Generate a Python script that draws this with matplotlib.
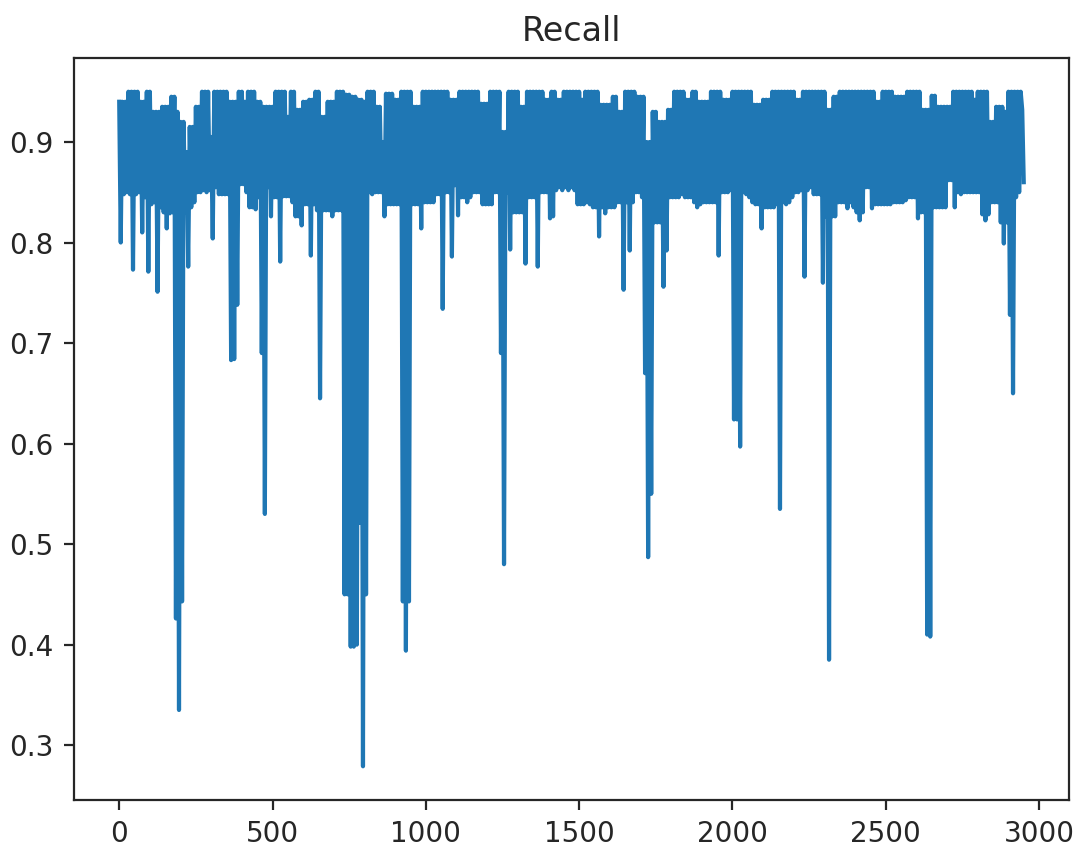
import numpy as np
import matplotlib
matplotlib.use("Agg")
import matplotlib.pyplot as plt

plt.rcParams["path.simplify"] = False

title = "Recall"
sample_every = 5  # one recall value read every 5 iterations

recall = [
    0.94, 0.80, 0.94, 0.848, 0.94, 0.85, 0.95, 0.848, 0.95, 0.773,
    0.95, 0.848, 0.95, 0.85, 0.94, 0.81, 0.94, 0.845, 0.95, 0.771,
    0.95, 0.838, 0.93, 0.84, 0.93, 0.751, 0.93, 0.835, 0.935, 0.83,
    0.935, 0.814, 0.935, 0.829, 0.945, 0.83, 0.945, 0.426, 0.93, 0.335,
    0.92, 0.443, 0.92, 0.83, 0.89, 0.776, 0.915, 0.835, 0.915, 0.84,
    0.935, 0.85, 0.935, 0.85, 0.95, 0.852, 0.95, 0.85, 0.95, 0.852,
    0.905, 0.804, 0.95, 0.855, 0.95, 0.848, 0.95, 0.848, 0.95, 0.848,
    0.95, 0.848, 0.94, 0.683, 0.94, 0.684, 0.94, 0.738, 0.95, 0.858,
    0.95, 0.858, 0.94, 0.85, 0.95, 0.835, 0.95, 0.835, 0.95, 0.833,
    0.94, 0.845, 0.94, 0.69, 0.935, 0.53, 0.935, 0.855, 0.935, 0.826,
    0.935, 0.845, 0.95, 0.845, 0.95, 0.781, 0.95, 0.846, 0.95, 0.846,
    0.925, 0.846, 0.95, 0.84, 0.95, 0.826, 0.932, 0.826, 0.932, 0.817,
    0.94, 0.838, 0.94, 0.838, 0.942, 0.787, 0.942, 0.838, 0.95, 0.832,
    0.95, 0.645, 0.925, 0.832, 0.925, 0.832, 0.94, 0.832, 0.94, 0.826,
    0.94, 0.832, 0.95, 0.832, 0.95, 0.832, 0.95, 0.45, 0.947, 0.45,
    0.947, 0.398, 0.945, 0.398, 0.945, 0.40, 0.942, 0.521, 0.942, 0.279,
    0.94, 0.45, 0.95, 0.85, 0.95, 0.848, 0.95, 0.85, 0.935, 0.85,
    0.935, 0.85, 0.90, 0.826, 0.948, 0.838, 0.948, 0.838, 0.948, 0.838,
    0.942, 0.838, 0.942, 0.838, 0.95, 0.443, 0.95, 0.394, 0.95, 0.443,
    0.95, 0.838, 0.935, 0.838, 0.935, 0.838, 0.935, 0.814, 0.95, 0.84,
    0.95, 0.84, 0.95, 0.84, 0.95, 0.84, 0.95, 0.848, 0.95, 0.848,
    0.95, 0.734, 0.95, 0.85, 0.95, 0.85, 0.942, 0.786, 0.942, 0.857,
    0.942, 0.827, 0.95, 0.845, 0.95, 0.845, 0.95, 0.84, 0.95, 0.845,
    0.95, 0.85, 0.95, 0.85, 0.95, 0.85, 0.938, 0.838, 0.938, 0.838,
    0.938, 0.838, 0.95, 0.838, 0.95, 0.85, 0.95, 0.85, 0.95, 0.69,
    0.91, 0.48, 0.91, 0.85, 0.95, 0.793, 0.95, 0.83, 0.95, 0.83,
    0.95, 0.83, 0.935, 0.83, 0.935, 0.779, 0.95, 0.845, 0.95, 0.845,
    0.95, 0.845, 0.95, 0.776, 0.95, 0.85, 0.95, 0.85, 0.942, 0.85,
    0.942, 0.824, 0.95, 0.826, 0.95, 0.852, 0.942, 0.855, 0.942, 0.852,
    0.95, 0.855, 0.95, 0.852, 0.95, 0.855, 0.95, 0.852, 0.95, 0.838,
    0.95, 0.838, 0.942, 0.838, 0.95, 0.84, 0.95, 0.838, 0.95, 0.835,
    0.95, 0.835, 0.95, 0.806, 0.937, 0.835, 0.937, 0.829, 0.937, 0.835,
    0.937, 0.835, 0.945, 0.835, 0.945, 0.84, 0.93, 0.84, 0.93, 0.753,
    0.95, 0.84, 0.95, 0.792, 0.95, 0.84, 0.95, 0.85, 0.945, 0.85,
    0.945, 0.845, 0.945, 0.67, 0.90, 0.487, 0.90, 0.55, 0.93, 0.82,
    0.93, 0.82, 0.92, 0.82, 0.92, 0.756, 0.92, 0.792, 0.932, 0.845,
    0.932, 0.845, 0.95, 0.845, 0.95, 0.845, 0.95, 0.848, 0.95, 0.845,
    0.942, 0.845, 0.942, 0.845, 0.95, 0.84, 0.95, 0.835, 0.94, 0.838,
    0.94, 0.84, 0.94, 0.84, 0.94, 0.84, 0.95, 0.84, 0.95, 0.84,
    0.95, 0.787, 0.95, 0.85, 0.942, 0.85, 0.942, 0.85, 0.942, 0.852,
    0.95, 0.624, 0.95, 0.624, 0.95, 0.597, 0.95, 0.85, 0.95, 0.848,
    0.95, 0.845, 0.95, 0.84, 0.937, 0.838, 0.937, 0.838, 0.937, 0.814,
    0.942, 0.835, 0.942, 0.835, 0.942, 0.835, 0.95, 0.835, 0.95, 0.838,
    0.95, 0.535, 0.95, 0.84, 0.95, 0.838, 0.95, 0.84, 0.95, 0.845,
    0.95, 0.85, 0.942, 0.85, 0.942, 0.852, 0.95, 0.766, 0.95, 0.852,
    0.95, 0.855, 0.95, 0.848, 0.95, 0.848, 0.95, 0.848, 0.95, 0.76,
    0.95, 0.826, 0.932, 0.385, 0.932, 0.826, 0.945, 0.826, 0.945, 0.84,
    0.95, 0.84, 0.95, 0.84, 0.95, 0.834, 0.95, 0.84, 0.95, 0.835,
    0.95, 0.83, 0.95, 0.822, 0.95, 0.83, 0.95, 0.855, 0.95, 0.855,
    0.95, 0.834, 0.95, 0.838, 0.94, 0.838, 0.94, 0.838, 0.95, 0.838,
    0.95, 0.838, 0.95, 0.838, 0.95, 0.84, 0.945, 0.84, 0.945, 0.84,
    0.945, 0.84, 0.945, 0.842, 0.95, 0.845, 0.95, 0.845, 0.95, 0.845,
    0.95, 0.824, 0.95, 0.83, 0.932, 0.83, 0.932, 0.41, 0.932, 0.408,
    0.946, 0.835, 0.946, 0.835, 0.935, 0.835, 0.935, 0.835, 0.935, 0.835,
    0.935, 0.862, 0.935, 0.862, 0.95, 0.835, 0.95, 0.85, 0.95, 0.848,
    0.95, 0.85, 0.95, 0.85, 0.95, 0.85, 0.95, 0.85, 0.942, 0.85,
    0.95, 0.85, 0.95, 0.828, 0.95, 0.822, 0.95, 0.828, 0.92, 0.84,
    0.92, 0.84, 0.935, 0.84, 0.935, 0.82, 0.935, 0.799, 0.93, 0.82,
    0.95, 0.728, 0.95, 0.65, 0.95, 0.845, 0.95, 0.85, 0.95, 0.932,
    0.86,
]

iterations = np.arange(len(recall)) * sample_every

fig = plt.figure(figsize=(10.8, 8.5), dpi=100)
ax = fig.add_axes([0.0685, 0.0588, 0.9213, 0.873])
ax.plot(iterations, recall, color="#1f77b4", linewidth=3.0)
ax.set_title(title, fontsize=24, pad=12)
ax.set_xticks([0, 500, 1000, 1500, 2000, 2500, 3000])
ax.set_yticks([0.3, 0.4, 0.5, 0.6, 0.7, 0.8, 0.9])
ax.tick_params(axis="both", labelsize=20, length=7.5, width=1.6, pad=7,
               colors="#262626")
for s in ax.spines.values():
    s.set_linewidth(1.6)
    s.set_color("#262626")
ax.title.set_color("#262626")

fig.savefig("out.png", dpi=100)
